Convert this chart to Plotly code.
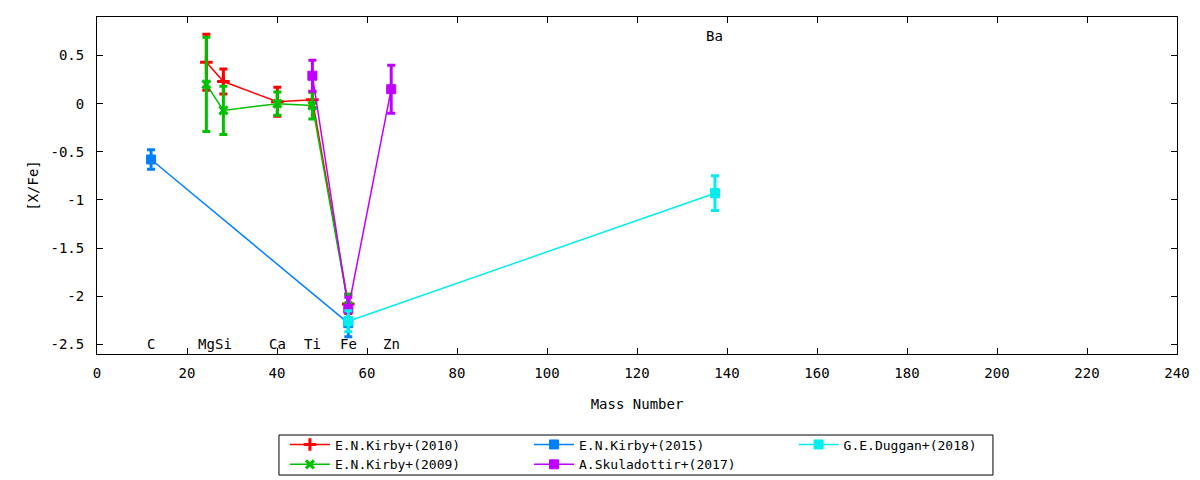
import plotly.graph_objs as go

# element masses and labels
elements = ['C', 'Mg', 'Si', 'Ca', 'Ti', 'Fe', 'Zn', 'Ba']
masses = [12.011, 24.305, 28.086, 40.078, 47.867, 55.845, 65.38, 137.327]
label_y = [-2.5, -2.5, -2.5, -2.5, -2.5, -2.5, -2.5, 0.7]

# E.N.Kirby+(2010): Mg, Si, Ca, Ti, Fe
kirby10_x = [24.305, 28.086, 40.078, 47.867, 55.845]
kirby10_y = [0.43, 0.23, 0.02, 0.04, -2.08]
kirby10_err = [0.29, 0.13, 0.15, 0.08, 0.10]

# E.N.Kirby+(2009): Mg, Si, Ca, Ti, Fe
kirby09_x = [24.305, 28.086, 40.078, 47.867, 55.845]
kirby09_y = [0.20, -0.07, 0.00, -0.02, -2.10]
kirby09_err = [0.49, 0.25, 0.12, 0.14, 0.12]

# E.N.Kirby+(2015): C, Fe
kirby15_x = [12.011, 55.845]
kirby15_y = [-0.58, -2.28]
kirby15_err = [0.10, 0.14]

# A.Skuladottir+(2017): Ti, Fe, Zn
skul17_x = [47.867, 55.845, 65.38]
skul17_y = [0.29, -2.13, 0.15]
skul17_err = [0.16, 0.12, 0.25]

# G.E.Duggan+(2018): Fe, Ba
duggan18_x = [55.845, 137.327]
duggan18_y = [-2.26, -0.93]
duggan18_err = [0.11, 0.18]

font = dict(family='DejaVu Sans Mono', size=14, color='black')
legend_font = dict(family='DejaVu Sans Mono', size=13, color='black')


def series(name, x, y, err, color, symbol, size, lw, legend):
    return go.Scatter(
        x=x, y=y, name=name, mode='lines+markers', legend=legend,
        line=dict(color=color, width=1.5),
        marker=dict(color=color, symbol=symbol, size=size,
                    line=dict(color=color, width=lw)),
        error_y=dict(type='data', array=err, visible=True, color=color,
                     thickness=3, width=4),
    )


fig = go.Figure()
fig.add_trace(series('E.N.Kirby+(2010)', kirby10_x, kirby10_y, kirby10_err,
                     '#ff0000', 'cross-thin', 9, 3, 'legend'))
fig.add_trace(series('E.N.Kirby+(2009)', kirby09_x, kirby09_y, kirby09_err,
                     '#00c000', 'x-thin', 8, 3, 'legend'))
fig.add_trace(series('E.N.Kirby+(2015)', kirby15_x, kirby15_y, kirby15_err,
                     '#0080ff', 'square', 9, 1, 'legend2'))
fig.add_trace(series('A.Skuladottir+(2017)', skul17_x, skul17_y, skul17_err,
                     '#c000ff', 'square', 9, 1, 'legend2'))
fig.add_trace(series('G.E.Duggan+(2018)', duggan18_x, duggan18_y, duggan18_err,
                     '#00eeee', 'square', 9, 1, 'legend3'))

for el, m, ly in zip(elements, masses, label_y):
    fig.add_annotation(x=m, y=ly, text=el, showarrow=False, font=font)

axis_style = dict(showgrid=False, zeroline=False, showline=True, linecolor='black',
                  linewidth=1, mirror='allticks', ticks='inside', ticklen=6,
                  tickcolor='black', tickfont=font, automargin=False)
fig.update_xaxes(range=[0, 240], dtick=20, ticklabelstandoff=6,
                 title=dict(text='Mass Number', font=font, standoff=19), **axis_style)
fig.update_yaxes(range=[-2.6, 0.9], tickvals=[0.5, 0, -0.5, -1, -1.5, -2, -2.5],
                 ticktext=['0.5', '0', '-0.5', '-1', '-1.5', '-2', '-2.5'], ticklabelstandoff=9,
                 title=dict(text='[X/Fe]', font=font, standoff=8), **axis_style)

leg = dict(yanchor='top', xanchor='left', y=-0.224,
           bgcolor='rgba(0,0,0,0)', borderwidth=0, font=legend_font, itemwidth=40,
           tracegroupgap=0)
# page body has an 8px margin, so the figure is sized to fit the window
fig.update_layout(
    width=1192, height=472,
    margin=dict(l=89, r=23, t=9, b=126, autoexpand=False),
    plot_bgcolor='white', paper_bgcolor='white',
    font=font,
    legend=dict(x=0.174, **leg),
    legend2=dict(x=0.40, **leg),
    legend3=dict(x=0.645, **leg),
    shapes=[dict(type='rect', xref='paper', yref='paper', x0=0.1685, x1=0.8296,
                 y0=-0.3591, y1=-0.2404, line=dict(color='black', width=1))],
)

fig.write_html('out.html')
